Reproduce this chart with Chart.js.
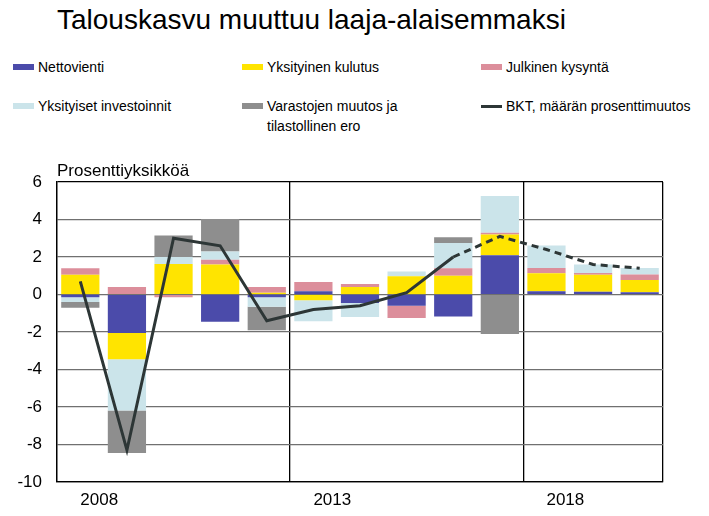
<!DOCTYPE html>
<html>
<head>
<meta charset="utf-8">
<script src="https://cdn.jsdelivr.net/npm/chart.js@4"></script>
<style>
body{margin:0;width:709px;height:516px;position:relative;background:#fff;font-family:'Liberation Sans',Arial,sans-serif;overflow:hidden}
#chart{position:absolute;left:0;top:0}
h1{position:absolute;left:57px;top:4px;margin:0;font-weight:normal;font-size:28px;color:#000;white-space:nowrap}
.leg{position:absolute;font-size:14px;line-height:20px;color:#000}
.sw{position:absolute;left:-25px;top:7px;width:21px;height:6px}
</style>
</head>
<body>
<h1 id="title"></h1>
<div id="legend"></div>
<canvas id="chart" width="709" height="516"></canvas>
<script>
const chartTitle = 'Talouskasvu muuttuu laaja-alaisemmaksi';
const yAxisTitle = 'Prosenttiyksikköä';
const years = ['2008','2009','2010','2011','2012','2013','2014','2015','2016','2017','2018','2019','2020'];

const nettovienti  = [-0.15, -2.05, 0, -1.45, -0.15, 0.17, -0.45, -0.6, -1.17, 2.1, 0.17, 0.15, 0.12];
const kulutus      = [1.05, -1.4, 1.63, 1.6, 0.1, -0.3, 0.4, 0.97, 1.0, 1.1, 0.97, 0.9, 0.65];
const julkinen     = [0.35, 0.4, -0.15, 0.25, 0.3, 0.5, 0.16, -0.65, 0.4, 0.1, 0.27, 0.1, 0.3];
const investoinnit = [-0.25, -2.73, 0.37, 0.45, -0.5, -1.13, -0.75, 0.26, 1.35, 1.95, 1.2, 0.45, 0.35];
const varastot     = [-0.3, -2.27, 1.15, 1.73, -1.25, 0, 0, 0, 0.3, -2.1, 0, 0, 0];
const bkt          = [0.7, -8.3, 3.0, 2.6, -1.4, -0.8, -0.6, 0.1, 2.0, 3.1, 2.4, 1.6, 1.4];
const forecastFrom = 8; // dashed line from 2016 onwards

const series = [
	{ label: 'Nettovienti', data: nettovienti, color: '#4B4BAA' },
	{ label: 'Yksityinen kulutus', data: kulutus, color: '#FFE400' },
	{ label: 'Julkinen kysyntä', data: julkinen, color: '#DC8E9B' },
	{ label: 'Yksityiset investoinnit', data: investoinnit, color: '#CBE4EA' },
	{ label: 'Varastojen muutos ja<br>tilastollinen ero', data: varastot, color: '#8E8E8E' }
];
const lineLabel = 'BKT, määrän prosenttimuutos';
const lineColor = '#2D3636';

// title and legend as html
document.getElementById('title').textContent = chartTitle;
const legendPos = [[38, 57], [267, 57], [506, 57], [38, 96], [267, 96], [506, 96]];
const legendItems = series.map(s => ({ label: s.label, color: s.color, line: false }));
legendItems.push({ label: lineLabel, color: lineColor, line: true });
const legendEl = document.getElementById('legend');
legendItems.forEach((item, i) => {
	const div = document.createElement('div');
	div.className = 'leg';
	div.style.left = legendPos[i][0] + 'px';
	div.style.top = legendPos[i][1] + 'px';
	const sw = document.createElement('span');
	sw.className = 'sw';
	sw.style.background = item.color;
	if (item.line) { sw.style.height = '3px'; sw.style.top = '9px'; }
	div.appendChild(sw);
	div.insertAdjacentHTML('beforeend', item.label);
	legendEl.appendChild(div);
});

const axisTitle = {
	id: 'axisTitle',
	afterDraw(chart) {
		const ctx = chart.ctx;
		ctx.save();
		ctx.font = '17px "Liberation Sans", Arial, sans-serif';
		ctx.fillStyle = '#000';
		ctx.textBaseline = 'alphabetic';
		ctx.fillText(yAxisTitle, chart.chartArea.left, chart.chartArea.top - 6);
		ctx.restore();
	}
};

const datasets = series.map(s => ({
	type: 'bar',
	label: s.label,
	data: s.data,
	backgroundColor: s.color,
	borderWidth: 0,
	stack: 'a',
	order: 1,
	categoryPercentage: 1,
	barPercentage: 0.82
}));
datasets.push({
	type: 'line',
	label: lineLabel,
	data: bkt,
	borderColor: lineColor,
	borderWidth: 3,
	pointRadius: 0,
	tension: 0,
	stack: 'line',
	order: 0,
	segment: {
		borderDash: ctx => ctx.p0DataIndex >= forecastFrom ? [7, 5] : undefined
	}
});

const tickFont = { family: '"Liberation Sans", Arial, sans-serif', size: 17 };

new Chart(document.getElementById('chart'), {
	type: 'bar',
	data: { labels: years, datasets: datasets },
	options: {
		responsive: false,
		animation: false,
		layout: { padding: { top: 182, right: 46, left: 0, bottom: 0 } },
		plugins: { legend: { display: false }, tooltip: { enabled: false } },
		scales: {
			x: {
				stacked: true,
				afterFit: scale => { scale.height = 34; },
				grid: {
					offset: true,
					drawTicks: false,
					color: ctx => (ctx.index === undefined || [0, 5, 10].includes(ctx.index)) ? '#000' : 'rgba(0,0,0,0)',
					lineWidth: 1.3
				},
				border: { color: '#000', width: 1.3 },
				ticks: {
					autoSkip: false,
					maxRotation: 0,
					align: 'start',
					padding: 8,
					color: '#000',
					font: tickFont,
					callback: (v, i) => i % 5 === 0 ? years[i] : ''
				}
			},
			y: {
				stacked: true,
				min: -10,
				max: 6,
				afterFit: scale => { scale.width = 57; },
				grid: {
					drawTicks: false,
					color: ctx => (ctx.tick && (ctx.tick.value === 6 || ctx.tick.value === -10)) ? '#000' : '#707070',
					lineWidth: 1.2
				},
				border: { color: '#000', width: 1.3 },
				ticks: { stepSize: 2, padding: 15, color: '#000', font: tickFont }
			}
		}
	},
	plugins: [axisTitle]
});
</script>
</body>
</html>
